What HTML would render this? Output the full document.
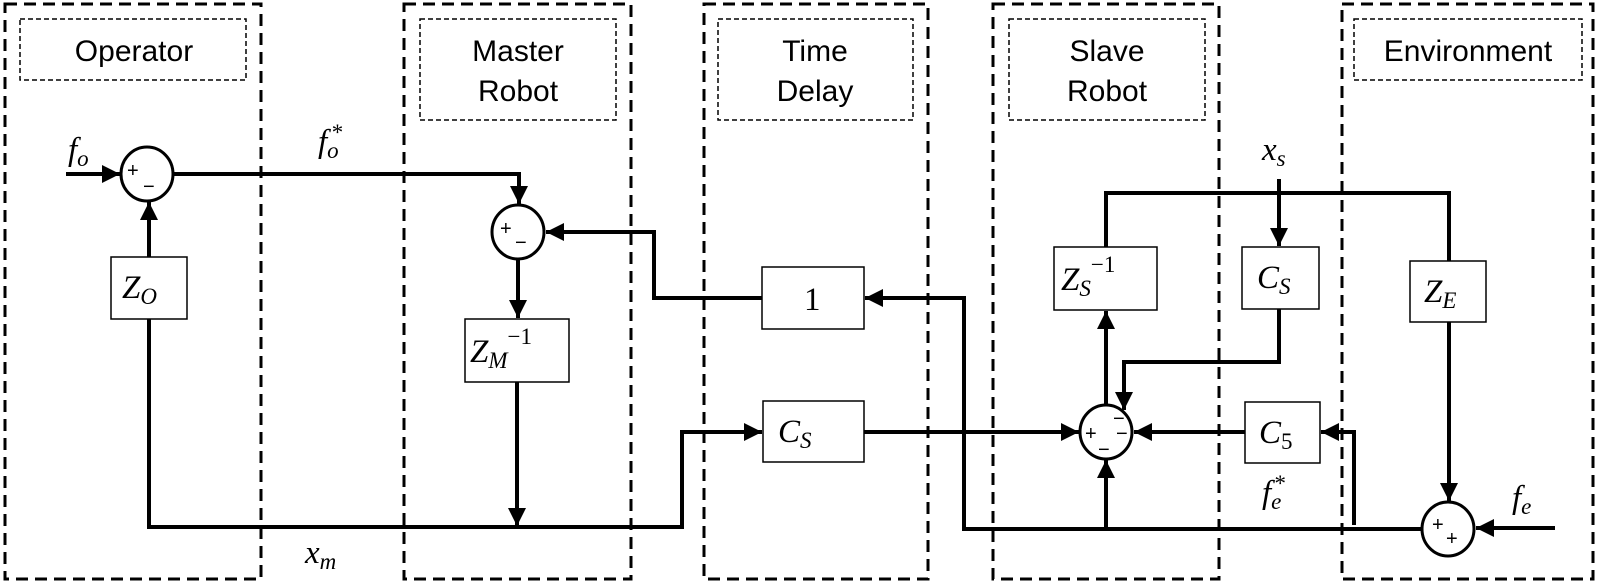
<!DOCTYPE html>
<html><head><meta charset="utf-8"><style>
html,body{margin:0;padding:0;background:#fff;}
svg{display:block;}
.t{font-family:"Liberation Sans",Arial,sans-serif;font-size:30px;fill:#000;text-anchor:middle;}
.m{font-family:"Liberation Serif",serif;font-style:italic;font-size:33px;fill:#000;}
.s{font-family:"Liberation Serif",serif;font-style:italic;font-size:23px;}
.sg{font-family:"Liberation Sans",sans-serif;font-size:20px;fill:#000;}
</style></head><body>
<svg width="1600" height="586" viewBox="0 0 1600 586" xmlns="http://www.w3.org/2000/svg">
<defs>
<marker id="a" viewBox="0 0 10 10" refX="10" refY="5" markerWidth="4.5" markerHeight="4.5" orient="auto" markerUnits="strokeWidth"><path d="M0,0 L10,5 L0,10 z" fill="#000"/></marker>
</defs>
<g fill="none" stroke="#000" stroke-width="3" stroke-dasharray="12,7">
<rect x="5" y="4" width="256" height="575"/>
<rect x="404" y="4" width="227" height="575"/>
<rect x="704" y="4" width="224" height="575"/>
<rect x="993" y="4" width="226" height="575"/>
<rect x="1342" y="4" width="251" height="575"/>
</g>
<g fill="none" stroke="#000" stroke-width="1.5" stroke-dasharray="5,3">
<rect x="20" y="19" width="226" height="61"/>
<rect x="420" y="19" width="196" height="101"/>
<rect x="718" y="19" width="195" height="101"/>
<rect x="1009" y="19" width="196" height="101"/>
<rect x="1354" y="19" width="228" height="61"/>
</g>
<text class="t" x="134" y="61">Operator</text>
<text class="t" x="518" y="61">Master</text><text class="t" x="518" y="101">Robot</text>
<text class="t" x="815" y="61">Time</text><text class="t" x="815" y="101">Delay</text>
<text class="t" x="1107" y="61">Slave</text><text class="t" x="1107" y="101">Robot</text>
<text class="t" x="1468" y="61">Environment</text>
<g fill="#fff" stroke="#000" stroke-width="1.5">
<rect x="111" y="257" width="76" height="62"/>
<rect x="465" y="319" width="104" height="63"/>
<rect x="762" y="267" width="102" height="62"/>
<rect x="763" y="401" width="101" height="61"/>
<rect x="1054" y="247" width="103" height="63"/>
<rect x="1242" y="247" width="77" height="62"/>
<rect x="1245" y="402" width="75" height="61"/>
<rect x="1410" y="261" width="76" height="61"/>
</g>
<g fill="#fff" stroke="#000" stroke-width="3">
<ellipse cx="147" cy="174" rx="26" ry="27"/>
<ellipse cx="518" cy="232" rx="26" ry="27"/>
<ellipse cx="1106" cy="432" rx="26" ry="27"/>
<ellipse cx="1448" cy="529" rx="26" ry="27"/>
</g>
<g fill="none" stroke="#000" stroke-width="4">
<line x1="66" y1="174" x2="120" y2="174" marker-end="url(#a)"/>
<polyline points="173,174 519,174 519,204" marker-end="url(#a)"/>
<line x1="149" y1="257" x2="149" y2="202" marker-end="url(#a)"/>
<polyline points="149,319 149,527 682,527 682,432 762,432" marker-end="url(#a)"/>
<polyline points="762,298 654,298 654,232 546,232" marker-end="url(#a)"/>
<line x1="518" y1="259" x2="518" y2="318" marker-end="url(#a)"/>
<line x1="517" y1="382" x2="517" y2="526" marker-end="url(#a)"/>
<line x1="864" y1="432" x2="1079" y2="432" marker-end="url(#a)"/>
<polyline points="1422,529 964,529 964,298 865,298" marker-end="url(#a)"/>
<line x1="1106" y1="529" x2="1106" y2="460" marker-end="url(#a)"/>
<line x1="1106" y1="405" x2="1106" y2="311" marker-end="url(#a)"/>
<polyline points="1106,247 1106,193 1449,193 1449,261"/>
<line x1="1449" y1="322" x2="1449" y2="501" marker-end="url(#a)"/>
<line x1="1279" y1="179" x2="1279" y2="246" marker-end="url(#a)"/>
<polyline points="1279,309 1279,362 1124,362 1124,410" marker-end="url(#a)"/>
<line x1="1245" y1="432" x2="1134" y2="432" marker-end="url(#a)"/>
<polyline points="1354,525 1354,432 1321,432" marker-end="url(#a)"/>
<line x1="1555" y1="528" x2="1476" y2="528" marker-end="url(#a)"/>
</g>
<text class="sg" x="127" y="177">+</text><text class="sg" x="143" y="193">−</text>
<text class="sg" x="500" y="235">+</text><text class="sg" x="515" y="249">−</text>
<text class="sg" x="1085" y="440">+</text><text class="sg" x="1113" y="425">−</text><text class="sg" x="1116" y="440">−</text><text class="sg" x="1098" y="456">−</text>
<text class="sg" x="1432" y="531">+</text><text class="sg" x="1446" y="545">+</text>
<text class="m" x="68" y="160">f<tspan class="s" dy="6">o</tspan></text>
<text class="m" x="318" y="152">f<tspan class="s" dy="6">o</tspan><tspan class="s" dy="-18" dx="-8">*</tspan></text>
<text class="m" x="305" y="563">x<tspan class="s" dy="6">m</tspan></text>
<text class="m" x="1262" y="160">x<tspan class="s" dy="6">s</tspan></text>
<text class="m" x="1262" y="503">f<tspan class="s" dy="6">e</tspan><tspan class="s" dy="-18" dx="-8">*</tspan></text>
<text class="m" x="1512" y="508">f<tspan class="s" dy="6">e</tspan></text>
<text class="m" x="122" y="298">Z<tspan class="s" dy="6">O</tspan></text>
<text class="m" x="470" y="362">Z<tspan class="s" dy="6">M</tspan><tspan style="font-style:normal" class="s" dy="-24">−1</tspan></text>
<text class="m" x="804" y="310" style="font-style:normal">1</text>
<text class="m" x="778" y="442">C<tspan class="s" dy="6">S</tspan></text>
<text class="m" x="1061" y="290">Z<tspan class="s" dy="6">S</tspan><tspan style="font-style:normal" class="s" dy="-24">−1</tspan></text>
<text class="m" x="1257" y="288">C<tspan class="s" dy="6">S</tspan></text>
<text class="m" x="1259" y="443">C<tspan class="s" dy="6" style="font-style:normal">5</tspan></text>
<text class="m" x="1424" y="302">Z<tspan class="s" dy="6">E</tspan></text>
</svg>
</body></html>
